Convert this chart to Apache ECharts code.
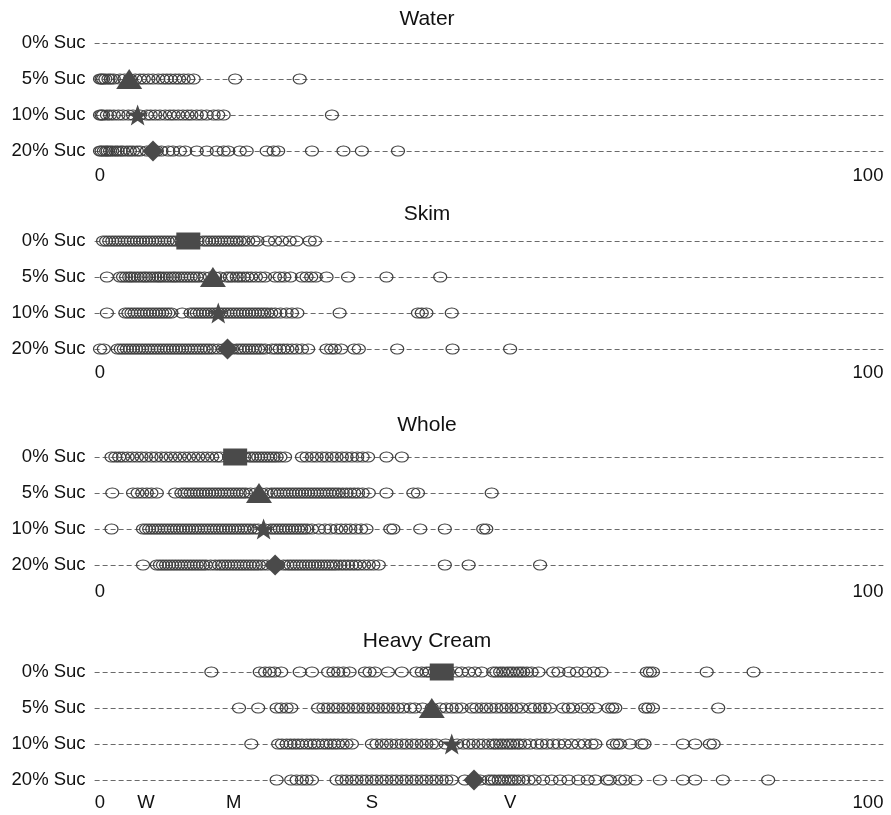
<!DOCTYPE html>
<html>
<head>
<meta charset="utf-8">
<script src="https://cdn.jsdelivr.net/npm/echarts@6/dist/echarts.min.js"></script>
<style>
html,body{margin:0;padding:0;background:#fff;}
#chart{width:891px;height:815px;}
</style>
</head>
<body>
<div id="chart"></div>
<script>
// ---------------- DATA ----------------
const rows = ['0% Suc', '5% Suc', '10% Suc', '20% Suc'];
const panelTitles = ['Water', 'Skim', 'Whole', 'Heavy Cream'];

// Water
const water0 = [];
const water5 = [0.0, 0.2, 0.4, 0.7, 1.1, 1.4, 1.8, 2.6, 3.2, 3.9, 4.6, 5.2, 5.7, 6.3, 6.9, 7.6, 8.2, 8.7, 9.2, 9.8, 10.3, 10.9, 11.5, 12.2, 17.6, 26.0];
const water10 = [0.0, 0.2, 0.4, 0.9, 1.3, 1.8, 2.4, 3.0, 3.7, 4.3, 5.2, 6.1, 6.6, 7.2, 7.8, 8.5, 9.1, 9.6, 10.2, 10.8, 11.4, 11.9, 12.6, 13.2, 13.9, 14.8, 15.4, 16.1, 30.2];
const water20 = [0.0, 0.2, 0.5, 0.8, 1.0, 1.3, 1.6, 2.0, 2.3, 2.7, 3.0, 3.5, 3.9, 4.3, 4.8, 5.2, 6.1, 6.7, 7.4, 8.0, 8.9, 9.5, 10.4, 11.1, 12.6, 13.9, 15.2, 16.1, 16.7, 18.2, 19.1, 21.7, 22.6, 23.2, 27.6, 31.7, 34.1, 38.8];
const waterMeans = [null, 3.8, 4.9, 6.9];

// Skim
const skim0 = [0.4, 0.8, 1.2, 1.6, 2.0, 2.4, 2.8, 3.2, 3.6, 4.0, 4.4, 4.8, 5.2, 5.6, 6.0, 6.4, 6.8, 7.2, 7.6, 8.0, 8.4, 8.8, 9.2, 9.6, 10.0, 10.6, 11.3, 12.0, 12.7, 13.4, 13.8, 14.2, 14.6, 15.0, 15.4, 15.8, 16.2, 16.6, 17.0, 17.4, 17.8, 18.2, 18.7, 19.3, 20.0, 20.5, 21.9, 22.8, 23.7, 24.7, 25.6, 27.3, 28.0];
const skim5 = [0.9, 2.6, 3.0, 3.4, 3.8, 4.1, 4.5, 4.9, 5.3, 5.7, 6.0, 6.4, 6.8, 7.2, 7.6, 7.9, 8.3, 8.7, 9.1, 9.5, 9.8, 10.2, 10.6, 11.0, 11.4, 11.8, 12.2, 12.6, 13.0, 13.6, 14.3, 15.0, 15.6, 16.5, 16.9, 17.3, 17.8, 18.2, 18.7, 19.2, 19.7, 20.3, 20.9, 21.5, 22.8, 23.4, 24.0, 24.8, 26.3, 26.9, 27.5, 28.1, 29.5, 32.3, 37.3, 44.3];
const skim10 = [0.9, 3.3, 3.7, 4.1, 4.5, 4.9, 5.3, 5.7, 6.1, 6.5, 6.9, 7.3, 7.7, 8.1, 8.5, 8.9, 9.3, 10.7, 11.8, 12.2, 12.6, 13.0, 13.4, 13.8, 14.2, 14.6, 15.0, 15.4, 15.8, 16.2, 16.6, 17.0, 17.4, 17.8, 18.2, 18.6, 19.0, 19.4, 19.8, 20.2, 20.6, 21.0, 21.4, 21.8, 22.3, 22.8, 23.5, 24.3, 25.0, 25.7, 31.2, 41.4, 41.9, 42.5, 45.8];
const skim20 = [0.0, 0.5, 2.3, 2.7, 3.1, 3.5, 3.9, 4.3, 4.7, 5.1, 5.5, 5.9, 6.3, 6.7, 7.1, 7.5, 7.9, 8.3, 8.7, 9.1, 9.5, 9.9, 10.3, 10.7, 11.1, 11.5, 11.9, 12.3, 12.7, 13.1, 13.5, 13.9, 14.3, 14.8, 15.4, 16.0, 16.6, 17.2, 17.8, 18.2, 18.6, 19.0, 19.4, 19.8, 20.2, 20.6, 21.0, 21.5, 22.4, 22.9, 23.4, 23.9, 24.4, 25.0, 25.6, 26.3, 27.1, 29.5, 30.1, 30.6, 31.4, 33.1, 33.7, 38.7, 45.9, 53.4];
const skimMeans = [11.5, 14.7, 15.4, 16.6];

// Whole
const whole0 = [1.5, 2.0, 2.5, 3.0, 3.6, 4.2, 4.8, 5.4, 6.0, 6.7, 7.3, 8.0, 8.6, 9.2, 9.8, 10.4, 11.0, 11.6, 12.2, 12.8, 13.4, 14.0, 14.6, 15.2, 15.7, 16.8, 17.8, 18.8, 19.4, 19.8, 20.2, 20.6, 21.0, 21.4, 21.8, 22.2, 22.6, 23.0, 23.5, 24.1, 26.3, 26.9, 27.6, 28.2, 28.9, 29.5, 30.2, 30.8, 31.5, 32.1, 32.8, 33.5, 34.2, 34.9, 37.3, 39.3];
const whole5 = [1.6, 4.3, 4.9, 5.5, 6.1, 6.7, 7.4, 9.8, 10.6, 11.0, 11.4, 11.8, 12.2, 12.6, 13.0, 13.4, 13.8, 14.2, 14.6, 15.0, 15.4, 15.8, 16.2, 16.6, 17.0, 17.4, 17.8, 18.2, 18.6, 19.0, 19.6, 20.3, 21.0, 21.7, 22.3, 22.7, 23.1, 23.5, 23.9, 24.3, 24.7, 25.1, 25.5, 25.9, 26.3, 26.7, 27.1, 27.5, 27.9, 28.3, 28.7, 29.1, 29.5, 29.9, 30.3, 30.7, 31.1, 31.6, 32.1, 32.6, 33.1, 33.6, 34.2, 35.0, 37.3, 40.8, 41.4, 51.0];
const whole10 = [1.5, 5.6, 6.0, 6.4, 6.8, 7.2, 7.6, 8.0, 8.4, 8.8, 9.2, 9.6, 10.0, 10.4, 10.8, 11.2, 11.6, 12.0, 12.4, 12.8, 13.2, 13.6, 14.0, 14.4, 14.8, 15.2, 15.6, 16.0, 16.4, 16.8, 17.2, 17.6, 18.0, 18.4, 18.8, 19.2, 19.6, 20.1, 20.6, 21.5, 22.2, 22.6, 23.0, 23.4, 23.8, 24.2, 24.6, 25.0, 25.4, 25.8, 26.2, 26.6, 27.0, 27.6, 28.5, 29.3, 30.0, 30.8, 31.4, 32.0, 32.6, 33.3, 34.0, 34.7, 37.8, 38.2, 41.7, 44.9, 49.9, 50.3];
const whole20 = [5.6, 7.4, 7.8, 8.2, 8.6, 9.0, 9.4, 9.8, 10.2, 10.6, 11.0, 11.4, 11.8, 12.2, 12.6, 13.0, 13.4, 13.8, 14.4, 15.0, 15.5, 15.9, 16.3, 16.7, 17.1, 17.5, 17.9, 18.3, 18.7, 19.1, 19.5, 19.9, 20.3, 20.7, 21.2, 21.8, 22.5, 23.2, 23.9, 24.4, 24.8, 25.2, 25.6, 26.0, 26.4, 26.8, 27.2, 27.6, 28.0, 28.4, 28.8, 29.2, 29.6, 30.0, 30.4, 30.8, 31.3, 31.8, 32.3, 32.8, 33.3, 33.8, 34.4, 35.0, 35.6, 36.3, 44.9, 48.0, 57.3];
const wholeMeans = [17.6, 20.7, 21.3, 22.8];

// Heavy Cream
const hc0 = [14.5, 20.8, 21.5, 22.1, 22.7, 23.6, 26.0, 27.6, 29.7, 30.4, 31.0, 31.7, 32.5, 34.5, 35.1, 35.8, 37.5, 39.3, 41.2, 41.9, 42.5, 42.9, 43.6, 44.5, 45.3, 46.4, 47.1, 48.0, 48.8, 49.7, 51.2, 51.6, 52.1, 52.5, 53.0, 53.4, 53.8, 54.3, 54.7, 55.1, 55.6, 56.2, 57.1, 59.0, 59.7, 61.1, 62.1, 63.2, 64.3, 65.3, 71.2, 71.6, 72.0, 79.0, 85.1];
const hc5 = [18.1, 20.6, 23.0, 23.6, 24.3, 24.9, 28.4, 29.1, 29.7, 30.4, 31.0, 31.7, 32.3, 33.0, 33.6, 34.3, 34.9, 35.6, 36.2, 36.9, 37.5, 38.2, 38.8, 39.5, 40.4, 41.0, 42.0, 43.2, 44.3, 45.1, 45.8, 46.4, 47.1, 48.4, 49.0, 49.7, 50.3, 50.9, 51.6, 52.3, 52.9, 53.6, 54.2, 54.9, 56.0, 56.6, 57.3, 57.9, 58.6, 60.3, 61.0, 61.6, 62.7, 63.5, 64.5, 66.2, 66.7, 67.1, 71.0, 71.4, 72.0, 80.5];
const hc10 = [19.7, 23.2, 23.7, 24.3, 24.8, 25.3, 25.8, 26.3, 26.9, 27.4, 27.9, 28.4, 29.0, 29.5, 30.0, 30.5, 31.0, 31.6, 32.1, 32.8, 35.4, 36.0, 36.7, 37.3, 37.9, 38.6, 39.3, 39.9, 40.6, 41.2, 41.9, 42.5, 43.2, 43.8, 45.0, 46.5, 47.3, 48.0, 48.6, 49.3, 49.9, 50.6, 51.2, 51.6, 52.1, 52.5, 53.0, 53.4, 53.8, 54.3, 54.7, 55.3, 56.0, 56.9, 57.5, 58.2, 59.0, 59.7, 60.5, 61.4, 62.3, 63.1, 64.0, 64.5, 66.8, 67.3, 67.7, 69.0, 70.5, 70.9, 75.9, 77.5, 79.4, 79.9];
const hc20 = [23.0, 24.9, 25.6, 26.3, 26.9, 27.6, 30.8, 31.5, 32.1, 32.8, 33.4, 34.1, 34.7, 35.4, 36.0, 36.7, 37.3, 38.0, 38.6, 39.3, 39.9, 40.6, 41.2, 41.9, 42.5, 43.2, 43.8, 44.5, 45.1, 45.8, 47.5, 48.5, 49.5, 50.6, 51.0, 51.4, 51.9, 52.3, 52.7, 53.2, 53.6, 54.0, 54.5, 55.1, 55.8, 56.6, 57.7, 58.8, 59.9, 61.0, 62.3, 63.5, 64.5, 66.0, 66.4, 67.7, 68.4, 69.7, 72.9, 75.9, 77.5, 81.1, 87.0];
const hcMeans = [44.5, 43.2, 45.8, 48.7];

// Tick labels
const axisTickValues = [0, 100];
const axisTickLabels = ['0', '100'];
const hcTickValues = [0, 6.0, 17.4, 35.4, 53.4, 100];
const hcTickLabels = ['0', 'W', 'M', 'S', 'V', '100'];

// ---------------- BUILD ----------------
const panels = [
  [water0, water5, water10, water20],
  [skim0, skim5, skim10, skim20],
  [whole0, whole5, whole10, whole20],
  [hc0, hc5, hc10, hc20]
];
const panelMeans = [waterMeans, skimMeans, wholeMeans, hcMeans];

const FONT = '"Liberation Sans", Arial, Helvetica, sans-serif';
const gridTops = [43, 241, 457, 672];
const gridHeight = 108;
const titleY = [19, 214, 425, 641];
const xLabelMargin = [15, 14, 17, 13];
const X_MIN = -0.7, X_MAX = 102;
const PX_PER_UNIT = 7.68;
const gridLeft = 100 + X_MIN * PX_PER_UNIT;
const gridWidth = (X_MAX - X_MIN) * PX_PER_UNIT;

const ellipse = 'path://M50,0 C77.6,0 100,22.4 100,50 C100,77.6 77.6,100 50,100 C22.4,100 0,77.6 0,50 C0,22.4 22.4,0 50,0 Z';
const star = 'path://M50,0 L63,36 L100,36 L70,58 L81,95 L50,73 L19,95 L30,58 L0,36 L37,36 Z';
const meanSymbols = ['rect', 'triangle', star, 'diamond'];
const meanSizes = [[24, 17], [26, 20], [22, 21], [21, 21]];

const grids = [], xAxes = [], yAxes = [], series = [], graphics = [];

panels.forEach((rowArrays, p) => {
  grids.push({ left: gridLeft, width: gridWidth, top: gridTops[p], height: gridHeight, containLabel: false });
  const isLast = p === panels.length - 1;
  const tv = isLast ? hcTickValues : axisTickValues;
  const tl = isLast ? hcTickLabels : axisTickLabels;
  xAxes.push({
    type: 'value', gridIndex: p, min: X_MIN, max: X_MAX,
    axisLine: { show: false }, axisTick: { show: false }, splitLine: { show: false },
    axisLabel: {
      customValues: tv,
      margin: xLabelMargin[p],
      fontSize: 18.5, fontFamily: FONT, color: '#111',
      formatter: function (v) {
        for (let i = 0; i < tv.length; i++) { if (Math.abs(tv[i] - v) < 1e-6) return tl[i]; }
        return '';
      }
    }
  });
  yAxes.push({
    type: 'category', gridIndex: p, data: rows, inverse: true, boundaryGap: false,
    axisLine: { show: false }, axisTick: { show: false },
    axisLabel: { interval: 0, margin: 9, fontSize: 18.5, fontFamily: FONT, color: '#111' },
    splitLine: { show: true, interval: 0, lineStyle: { color: '#6a6a6a', width: 1, type: [5, 3] } }
  });
  const pts = [];
  rowArrays.forEach((arr, r) => arr.forEach(v => pts.push([v, r])));
  series.push({
    type: 'scatter', xAxisIndex: p, yAxisIndex: p, data: pts,
    symbol: ellipse, symbolSize: [13, 10], silent: true, z: 2,
    itemStyle: { color: 'rgba(0,0,0,0)', borderColor: '#3f3f3f', borderWidth: 1.1, opacity: 1 }
  });
  const md = [];
  panelMeans[p].forEach((m, r) => {
    if (m !== null) md.push({ value: [m, r], symbol: meanSymbols[r], symbolSize: meanSizes[r] });
  });
  series.push({
    type: 'scatter', xAxisIndex: p, yAxisIndex: p, data: md, silent: true, z: 3,
    itemStyle: { color: '#4a4a4a', borderWidth: 0, opacity: 1 }
  });
  graphics.push({
    type: 'text', x: 427, y: titleY[p], silent: true,
    style: {
      text: panelTitles[p], font: '21px ' + FONT, fill: '#111',
      align: 'center', verticalAlign: 'middle', textAlign: 'center', textVerticalAlign: 'middle'
    }
  });
});

const chart = echarts.init(document.getElementById('chart'), null, { renderer: 'canvas' });
chart.setOption({
  backgroundColor: '#fff',
  animation: false,
  grid: grids, xAxis: xAxes, yAxis: yAxes, series: series,
  graphic: graphics
});
</script>
</body>
</html>
